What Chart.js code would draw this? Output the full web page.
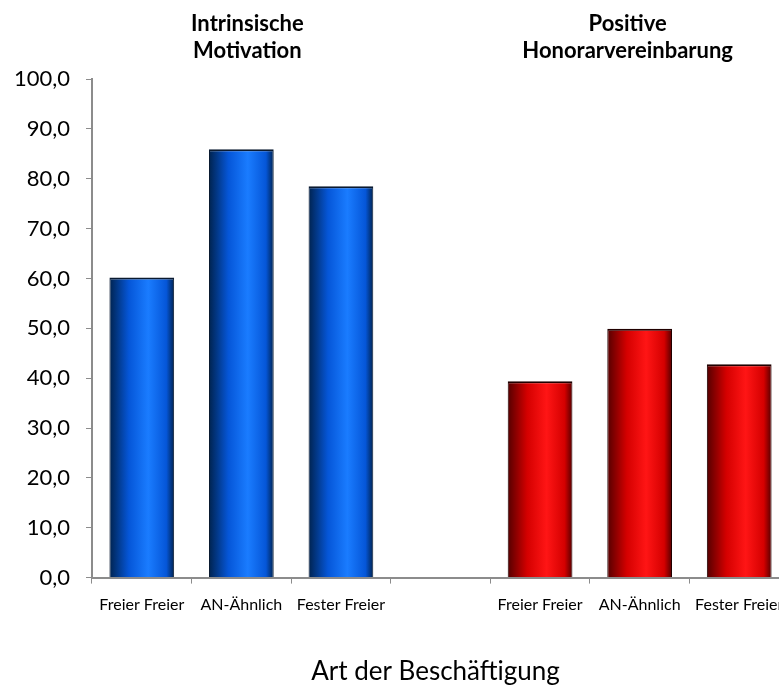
<!DOCTYPE html>
<html>
<head>
<meta charset="utf-8">
<script src="https://cdn.jsdelivr.net/npm/chart.js@4/dist/chart.umd.min.js"></script>
<style>
  html, body { margin: 0; padding: 0; background: #fff; overflow: hidden; }
  #wrap { width: 800px; height: 685px; }
</style>
</head>
<body>
<div id="wrap"><canvas id="myChart" width="800" height="685"></canvas></div>
<script>
// 7 slots, the 4th is the gap between the two groups; the last bar is cut by the page edge
var labels = ["Freier Freier", "AN-Ähnlich", "Fester Freier", "", "Freier Freier", "AN-Ähnlich", "Fester Freier"];
var intrinsisch = [60.2, 85.9, 78.5, null, null, null, null];
var honorar = [null, null, null, null, 39.4, 49.9, 42.8];
var groupTitles = [["Intrinsische", "Motivation"], ["Positive", "Honorarvereinbarung"]];
var groupCenter = [1, 5];
var xTitle = "Art der Beschäftigung";
var yTicks = {min: 0, max: 100, step: 10};

var FONT = "Lato, 'Open Sans', sans-serif";
var BAR_PCT = 0.65;

function cylinder(shade) {
  return function(c) {
    var chart = c.chart, xs = chart.scales.x;
    if (!xs || !chart.chartArea) return shade[1];
    var cx = xs.getPixelForValue(c.dataIndex);
    var w = xs.width / labels.length * BAR_PCT;
    var g = chart.ctx.createLinearGradient(cx - w / 2, 0, cx + w / 2, 0);
    g.addColorStop(0, shade[0]);
    g.addColorStop(0.3, shade[1]);
    g.addColorStop(0.6, shade[2]);
    g.addColorStop(0.88, shade[1]);
    g.addColorStop(1, shade[0]);
    return g;
  };
}

var titles = {
  id: "titles",
  afterDraw: function(chart) {
    var ctx = chart.ctx;
    var xs = chart.scales.x;
    ctx.save();
    ctx.fillStyle = "#000";
    ctx.font = "bold 22px " + FONT;
    ctx.textAlign = "center";
    ctx.textBaseline = "middle";
    var offs = [6, -12];
    groupTitles.forEach(function(t, i) {
      var cx = xs.getPixelForValue(groupCenter[i]) + offs[i];
      ctx.fillText(t[0], cx, 24);
      ctx.fillText(t[1], cx, 51);
    });
    // axis title centred on the visible part of the plot
    ctx.font = "26px " + FONT;
    ctx.textBaseline = "alphabetic";
    ctx.fillText(xTitle, (xs.left + chart.width - 21) / 2, 680);
    ctx.restore();
  }
};

new Chart("myChart", {
  type: "bar",
  data: {
    labels: labels,
    datasets: [
      {data: intrinsisch, backgroundColor: cylinder(["#00234f", "#0556d8", "#1a7cff"]), borderColor: "#0a1a30",
       borderWidth: {top: 2, left: 1, right: 1, bottom: 0}, borderSkipped: false},
      {data: honorar, backgroundColor: cylinder(["#550000", "#d40000", "#ff1515"]), borderColor: "#200000",
       borderWidth: {top: 2, left: 1, right: 1, bottom: 0}, borderSkipped: false}
    ]
  },
  options: {
    responsive: false,
    animation: false,
    layout: {padding: {top: 79, left: 0, right: 11, bottom: 4}},
    plugins: {legend: {display: false}, tooltip: {enabled: false}},
    datasets: {bar: {grouped: false, categoryPercentage: 1, barPercentage: BAR_PCT}},
    scales: {
      x: {
        // let the last label run off the page like in the original
        afterFit: function(s) { s.paddingLeft = 0; s.paddingRight = 0; },
        grid: {display: true, drawOnChartArea: false, color: "#8c8c8c", tickLength: 6, offset: true},
        border: {color: "#8c8c8c", width: 2},
        ticks: {color: "#000", font: {family: FONT, size: 16}, padding: 12, maxRotation: 0, autoSkip: false},
        // keeps the room for the title, text itself is drawn by the plugin
        title: {display: true, text: xTitle, color: "rgba(0,0,0,0)",
                font: {family: FONT, size: 26}, padding: {top: 23, bottom: 0}}
      },
      y: {
        min: yTicks.min, max: yTicks.max,
        afterFit: function(s) { s.width = 92; },
        grid: {display: true, drawOnChartArea: false, color: "#8c8c8c", tickLength: 6},
        border: {color: "#8c8c8c", width: 2},
        ticks: {stepSize: yTicks.step, color: "#000", padding: 16,
                font: {family: FONT, size: 22},
                callback: function(v) { return v.toFixed(1).replace(".", ","); }}
      }
    }
  },
  plugins: [titles]
});
</script>
</body>
</html>
